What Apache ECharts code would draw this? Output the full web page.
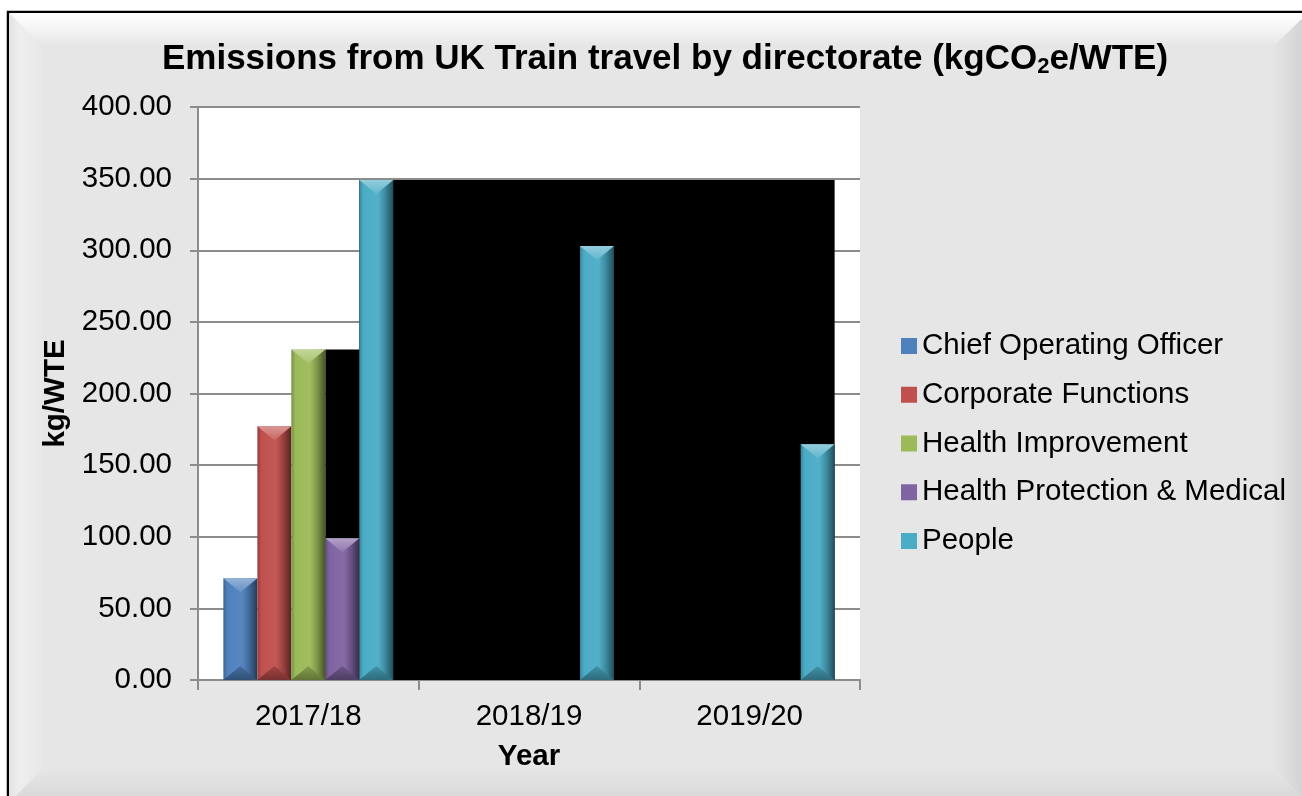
<!DOCTYPE html>
<html>
<head>
<meta charset="utf-8">
<title>Emissions from UK Train travel by directorate</title>
<script src="https://cdn.jsdelivr.net/npm/echarts@6/dist/echarts.min.js"></script>
<style>
  html, body { margin: 0; padding: 0; background: #ffffff; }
  #chart { width: 1302px; height: 796px; }
</style>
</head>
<body>
<div id="chart"></div>
<script>
// Financial years on the category axis
const years = ['2017/18', '2018/19', '2019/20'];

// kgCO2e per WTE by directorate (null = no figure for that year)
const chiefOperatingOfficer = [71.0, null, null];
const corporateFunctions    = [177.1, null, null];
const healthImprovement     = [230.8, null, null];
const healthProtection      = [98.9, null, null];
const people                = [349.0, 303.0, 164.5];

const seriesNames = [
  'Chief Operating Officer',
  'Corporate Functions',
  'Health Improvement',
  'Health Protection & Medical',
  'People'
];
const seriesValues = [chiefOperatingOfficer, corporateFunctions, healthImprovement, healthProtection, people];
const seriesColors = ['#4f81bd', '#c0504d', '#9bbb59', '#8064a2', '#4bacc6'];

// Y axis ticks
const yMin = 0, yMax = 400, yStep = 50;

const FONT = "Arial, 'Liberation Sans', sans-serif";
const FS = 29.5;
const GROUP_GAP = 0.23;             // fraction of each category band left empty
const N = seriesNames.length;

function shade(hex, f) {
  const n = parseInt(hex.slice(1), 16);
  let r = (n >> 16) & 255, g = (n >> 8) & 255, b = n & 255;
  if (f >= 1) {
    const t = f - 1;
    r = r + (255 - r) * t; g = g + (255 - g) * t; b = b + (255 - b) * t;
  } else {
    r *= f; g *= f; b *= f;
  }
  return 'rgb(' + Math.round(r) + ',' + Math.round(g) + ',' + Math.round(b) + ')';
}

// geometry of one bar slot inside a category band
function slot(api, cat, s) {
  const band = api.size([1, 0])[0];
  const bw = band * (1 - GROUP_GAP) / N;
  const c = api.coord([cat, 0]);
  return { x: c[0] - bw * N / 2 + s * bw, w: bw, base: c[1] };
}

// bevelled bar
function makeBarRenderer(s, color) {
  return function (params, api) {
    const cat = api.value(0), v = api.value(1);
    const sl = slot(api, cat, s);
    const topY = api.coord([cat, v])[1];
    const h = sl.base - topY;
    const x = sl.x, w = sl.w;
    const bev = Math.min(14, h / 2);
    return {
      type: 'group',
      children: [
        {
          type: 'rect',
          shape: { x: x, y: topY, width: w, height: h },
          style: {
            fill: new echarts.graphic.LinearGradient(0, 0, 1, 0, [
              { offset: 0, color: shade(color, 0.78) },
              { offset: 0.12, color: color },
              { offset: 0.55, color: shade(color, 1.05) },
              { offset: 0.75, color: shade(color, 0.82) },
              { offset: 1, color: shade(color, 0.45) }
            ])
          }
        },
        {
          type: 'polygon',
          shape: { points: [[x, topY], [x + w, topY], [x + w / 2, topY + bev]] },
          style: {
            fill: new echarts.graphic.LinearGradient(0, 0, 0, 1, [
              { offset: 0, color: shade(color, 1.4) },
              { offset: 1, color: shade(color, 1.12) }
            ])
          }
        },
        {
          type: 'polygon',
          shape: { points: [[x, sl.base], [x + w, sl.base], [x + w / 2, sl.base - bev]] },
          style: {
            fill: new echarts.graphic.LinearGradient(0, 1, 0, 0, [
              { offset: 0, color: shade(color, 0.62) },
              { offset: 1, color: shade(color, 0.85) }
            ])
          }
        }
      ]
    };
  };
}

const barSeries = seriesNames.map(function (name, s) {
  const data = [];
  seriesValues[s].forEach(function (v, i) { if (v != null) data.push([i, v]); });
  return {
    name: name,
    type: 'custom',
    z: 3,
    itemStyle: { color: seriesColors[s] },
    encode: { x: 0, y: 1 },
    renderItem: makeBarRenderer(s, seriesColors[s]),
    data: data
  };
});

// black stepped panel behind the bars: at Health Improvement height over the
// Health Protection slot, then at the first People height out to the last People bar
const panelSeries = {
  name: 'panel',
  type: 'custom',
  silent: true,
  z: 2,
  encode: { x: 0, y: 1 },
  renderItem: function (params, api) {
    const first = slot(api, 0, 3);
    const step = slot(api, 0, 4);
    const last = slot(api, years.length - 1, 4);
    const y1 = api.coord([0, healthImprovement[0]])[1];
    const y2 = api.coord([0, people[0]])[1];
    const pts = [
      [first.x, first.base], [first.x, y1], [step.x, y1], [step.x, y2],
      [last.x + last.w, y2], [last.x + last.w, last.base]
    ];
    return { type: 'polygon', shape: { points: pts }, style: { fill: '#000000' } };
  },
  data: [[0, people[0]]]
};

// bevelled frame behind the whole chart
function frameGraphics() {
  const L = 8, T = 12, R = 1308, B = 803, D = 34;
  return [
    { type: 'rect', z: -20, shape: { x: L, y: T, width: R - L, height: B - T },
      style: { fill: '#e6e6e6', stroke: '#000', lineWidth: 2.5 } },
    { type: 'polygon', z: -19, shape: { points: [[L + 1, T + 1], [R, T + 1], [R - D, T + D], [L + D, T + D]] },
      style: { fill: new echarts.graphic.LinearGradient(0, 0, 0, 1, [
        { offset: 0, color: '#ffffff' }, { offset: 0.4, color: '#f6f6f6' }, { offset: 1, color: '#e6e6e6' }]) } },
    { type: 'polygon', z: -19, shape: { points: [[L + 1, T + 1], [L + D, T + D], [L + D, B - D], [L + 1, B]] },
      style: { fill: new echarts.graphic.LinearGradient(0, 0, 1, 0, [
        { offset: 0, color: '#e2e2e2' }, { offset: 0.3, color: '#eeeeee' }, { offset: 1, color: '#e8e8e8' }]) } },
    { type: 'polygon', z: -19, shape: { points: [[R, T + 1], [R, B], [R - D, B - D], [R - D, T + D]] },
      style: { fill: new echarts.graphic.LinearGradient(0, 0, 1, 0, [
        { offset: 0, color: '#e4e4e4' }, { offset: 1, color: '#d0d0d0' }]) } },
    { type: 'polygon', z: -19, shape: { points: [[L + 1, B], [R, B], [R - D, B - D], [L + D, B - D]] },
      style: { fill: new echarts.graphic.LinearGradient(0, 0, 0, 1, [
        { offset: 0, color: '#e6e6e6' }, { offset: 1, color: '#d6d6d6' }]) } }
  ];
}

const chart = echarts.init(document.getElementById('chart'), null, { renderer: 'canvas' });
chart.setOption({
  backgroundColor: '#ffffff',
  animation: false,
  textStyle: { fontFamily: FONT },
  graphic: { elements: frameGraphics() },
  title: {
    text: 'Emissions from UK Train travel by directorate (kgCO{sub|2}e/WTE)',
    left: 660,
    top: 35,
    textAlign: 'center',
    textStyle: {
      fontFamily: FONT, fontSize: 35, fontWeight: 'bold', color: '#000',
      rich: { sub: { fontFamily: FONT, fontSize: 22, fontWeight: 'bold', color: '#000', padding: [16, 0, 0, 0] } }
    }
  },
  grid: {
    left: 198, top: 107, width: 662, height: 573,
    show: true, backgroundColor: '#ffffff', borderWidth: 0
  },
  legend: {
    orient: 'vertical',
    left: 901,
    top: 331,
    padding: 0,
    itemWidth: 16,
    itemHeight: 16,
    itemGap: 18.75,
    itemTextGap: 10,
    itemStyle: { borderWidth: 0 },
    icon: 'rect',
    data: seriesNames,
    textStyle: { fontFamily: FONT, fontSize: FS, color: '#000', lineHeight: 30 }
  },
  xAxis: {
    type: 'category',
    data: years,
    name: 'Year',
    nameLocation: 'middle',
    nameGap: 62,
    nameTextStyle: { fontFamily: FONT, fontSize: FS, fontWeight: 'bold', color: '#000' },
    axisLine: { lineStyle: { color: '#8c8c8c', width: 2 } },
    axisTick: { show: true, length: 10, alignWithLabel: false, lineStyle: { color: '#8c8c8c', width: 2 } },
    axisLabel: { fontFamily: FONT, fontSize: FS, color: '#000', margin: 22 },
    splitLine: { show: false }
  },
  yAxis: {
    type: 'value',
    min: yMin,
    max: yMax,
    interval: yStep,
    name: 'kg/WTE',
    nameLocation: 'middle',
    nameGap: 123,
    nameTextStyle: { fontFamily: FONT, fontSize: FS, fontWeight: 'bold', color: '#000' },
    axisLine: { show: true, lineStyle: { color: '#8c8c8c', width: 2 } },
    axisTick: { show: true, length: 8, lineStyle: { color: '#8c8c8c', width: 2 } },
    axisLabel: {
      fontFamily: FONT, fontSize: FS, color: '#000', margin: 26,
      formatter: function (v) { return v.toFixed(2); }
    },
    splitLine: { show: true, lineStyle: { color: '#8c8c8c', width: 2 } }
  },
  series: [panelSeries].concat(barSeries)
});
</script>
</body>
</html>
